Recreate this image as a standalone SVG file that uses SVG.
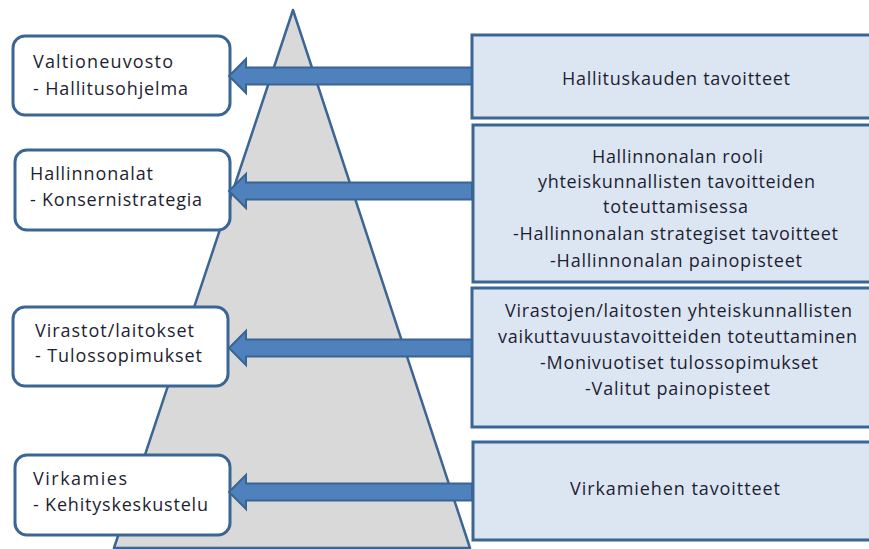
<svg xmlns="http://www.w3.org/2000/svg" width="869" height="549" viewBox="0 0 869 549">
<style>
text{font-family:"Open Sans","Liberation Sans",sans-serif;font-size:18px;font-weight:500;fill:#1e1e32;}
.lbox{fill:#ffffff;stroke:#3b6694;stroke-width:3;}
.rbox{fill:#dce6f2;stroke:#3b6694;stroke-width:3;}
.arrow{fill:#4f81bd;stroke:#3a6592;stroke-width:2;stroke-linejoin:miter;}
.tri{fill:#d9d9d9;stroke:#3b6694;stroke-width:2.5;stroke-linejoin:round;}
</style>
<rect width="869" height="549" fill="#ffffff"/>
<g id="pyramid">
<polygon class="tri" points="293,10 114,548 470,548"/>
</g>
<g id="valtioneuvosto">
<rect class="lbox" x="13" y="36" width="217" height="79" rx="12"/>
<text x="33" y="68" textLength="140" lengthAdjust="spacing">Valtioneuvosto</text>
<text x="33" y="95" textLength="155" lengthAdjust="spacing">- Hallitusohjelma</text>
</g>
<g id="hallinnonalat">
<rect class="lbox" x="15" y="150" width="215" height="80" rx="12"/>
<text x="30" y="180" textLength="123" lengthAdjust="spacing">Hallinnonalat</text>
<text x="30" y="206" textLength="172" lengthAdjust="spacing">- Konsernistrategia</text>
</g>
<g id="virastot">
<rect class="lbox" x="13" y="307" width="215" height="79" rx="12"/>
<text x="35" y="337" textLength="159" lengthAdjust="spacing">Virastot/laitokset</text>
<text x="35" y="362" textLength="167" lengthAdjust="spacing">- Tulossopimukset</text>
</g>
<g id="virkamies">
<rect class="lbox" x="15" y="455" width="215" height="80" rx="12"/>
<text x="33" y="485" textLength="94" lengthAdjust="spacing">Virkamies</text>
<text x="33" y="511" textLength="175" lengthAdjust="spacing">- Kehityskeskustelu</text>
</g>
<g id="connectors">
<polygon class="arrow" points="472,67.5 246,67.5 246,59 229,76 246,93 246,84.5 472,84.5"/>
<polygon class="arrow" points="472,182.5 246,182.5 246,174 229,191 246,208 246,199.5 472,199.5"/>
<polygon class="arrow" points="472,339.5 246,339.5 246,331 229,348 246,365 246,356.5 472,356.5"/>
<polygon class="arrow" points="472,483.5 246,483.5 246,475 229,492 246,509 246,500.5 472,500.5"/>
</g>
<g id="hallituskauden">
<rect class="rbox" x="472" y="35" width="420" height="83"/>
<text x="562" y="85" textLength="228" lengthAdjust="spacing">Hallituskauden tavoitteet</text>
</g>
<g id="hallinnonalan-rooli">
<rect class="rbox" x="473" y="125" width="420" height="157"/>
<text x="592" y="163" textLength="171" lengthAdjust="spacing">Hallinnonalan rooli</text>
<text x="538" y="188" textLength="277" lengthAdjust="spacing">yhteiskunnallisten tavoitteiden</text>
<text x="603" y="213" textLength="145" lengthAdjust="spacing">toteuttamisessa</text>
<text x="513" y="240" textLength="325" lengthAdjust="spacing">-Hallinnonalan strategiset tavoitteet</text>
<text x="550" y="267" textLength="252" lengthAdjust="spacing">-Hallinnonalan painopisteet</text>
</g>
<g id="virastojen">
<rect class="rbox" x="472" y="288" width="420" height="139"/>
<text x="505" y="317" textLength="347" lengthAdjust="spacing">Virastojen/laitosten yhteiskunnallisten</text>
<text x="498" y="343" textLength="359" lengthAdjust="spacing">vaikuttavuustavoitteiden toteuttaminen</text>
<text x="540" y="369" textLength="278" lengthAdjust="spacing">-Monivuotiset tulossopimukset</text>
<text x="585" y="395" textLength="185" lengthAdjust="spacing">-Valitut painopisteet</text>
</g>
<g id="virkamiehen">
<rect class="rbox" x="473" y="442" width="420" height="98"/>
<text x="570" y="495" textLength="210" lengthAdjust="spacing">Virkamiehen tavoitteet</text>
</g>
</svg>
